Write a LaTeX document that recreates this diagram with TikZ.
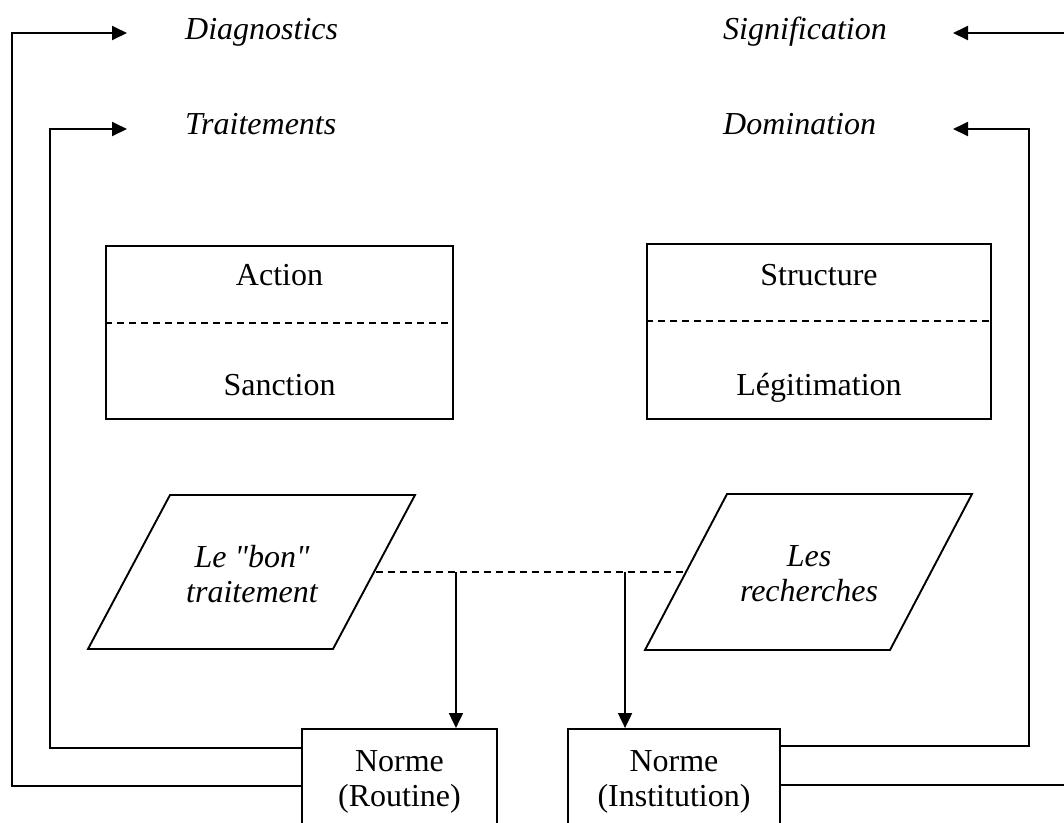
\documentclass[tikz,border=0pt]{standalone}
\usepackage{fontspec}
\setmainfont{Liberation Serif}
\usetikzlibrary{arrows.meta,calc}
\begin{document}
\begin{tikzpicture}[x=1pt,y=-1pt,
  lbl/.style={font=\fontsize{32}{35}\selectfont, inner sep=0pt},
  ilbl/.style={font=\fontsize{32}{35}\selectfont\itshape, inner sep=0pt},
  toplbl/.style={ilbl, anchor=base west, text height=22pt, text depth=7pt},
  boxline/.style={draw, line width=1.9pt},
  flow/.style={line width=1.9pt, -{Triangle[length=15pt,width=14pt]}},
  divline/.style={line width=1.5pt, dash pattern=on 7pt off 5pt}
]
\useasboundingbox (0,0) rectangle (1064,822);

% headings of the four dimensions
\node[toplbl] (diag)   at (185,39)  {Diagnostics};
\node[toplbl] (trait)  at (185,134) {Traitements};
\node[toplbl] (signif) at (723,39)  {Signification};
\node[toplbl] (domin)  at (723,134) {Domination};

% arrow tips pointing at the headings
\coordinate (tipDg) at ($(diag.west)+(-58,1.5)$);
\coordinate (tipTr) at ($(trait.west)+(-58,2.5)$);
\coordinate (tipSg) at ($(signif.west)+(230,1.5)$);
\coordinate (tipDm) at ($(domin.west)+(230,2.5)$);

% Action / Sanction
\node[boxline, minimum width=347pt, minimum height=173pt, inner sep=0pt] (act) at (279.5,332.5) {};
\draw[divline] ($(act.west)+(0,-9.5)$) -- ($(act.east)+(0,-9.5)$);
\node[lbl, anchor=base] (acttxt) at ($(act.north)+(0,40)$) {Action};
\node[lbl, anchor=base] (sanctxt) at ($(act.south)+(0,-24)$) {Sanction};

% Structure / Legitimation
\node[boxline, minimum width=344pt, minimum height=175pt, inner sep=0pt] (struc) at (819,331.5) {};
\draw[divline] ($(struc.west)+(0,-10.5)$) -- ($(struc.east)+(0,-10.5)$);
\node[lbl, anchor=base] (structxt) at ($(struc.north)+(0,42)$) {Structure};
\node[lbl, anchor=base] (legtxt) at ($(struc.south)+(0,-24)$) {Légitimation};

% the two parallelograms
\node[ilbl, align=center] (pl) at (252,574) {Le \textquotedbl bon\textquotedbl\\traitement};
\draw[boxline] ($(pl.center)+(-82,-79)$) -- ++(245,0) -- ++(-82,154) -- ++(-245,0) -- cycle;
\node[ilbl, align=center] (pr) at (809,574) {Les\\recherches};
\draw[boxline] ($(pr.center)+(-82,-80)$) -- ++(245,0) -- ++(-82,156) -- ++(-245,0) -- cycle;
\coordinate (plr) at ($(pl.center)+(123.5,-2)$);
\coordinate (prl) at ($(pr.center)+(-121.5,-2)$);
\draw[divline] (plr) -- (prl);

% the two norms
\node[boxline, lbl, anchor=north, minimum width=195pt, align=center, inner ysep=22pt] (routine) at (399.5,728) {Norme\\(Routine)};
\node[boxline, lbl, anchor=north, minimum width=212pt, align=center, inner ysep=22pt] (inst) at (674,728) {Norme\\(Institution)};

% arrows from the dashed link down to the norms
\coordinate (rin) at ($(routine.north east)+(-42,0)$);
\coordinate (iin) at ($(inst.north west)+(58,0)$);
\draw[flow] (rin |- plr) -- (rin);
\draw[flow] (iin |- plr) -- (iin);

% feedback loops towards the headings
\draw[flow] ($(routine.north west)+(0,58)$) -| ($(tipDg)+(-115,0)$) -- (tipDg);
\draw[flow] ($(routine.north west)+(0,20)$) -| ($(tipTr)+(-77,0)$) -- (tipTr);
\draw[flow] ($(inst.north east)+(0,57)$) -| ($(tipSg)+(125,0)$) -- (tipSg);
\draw[flow] ($(inst.north east)+(0,18)$) -| ($(tipDm)+(76,0)$) -- (tipDm);
\end{tikzpicture}
\end{document}
